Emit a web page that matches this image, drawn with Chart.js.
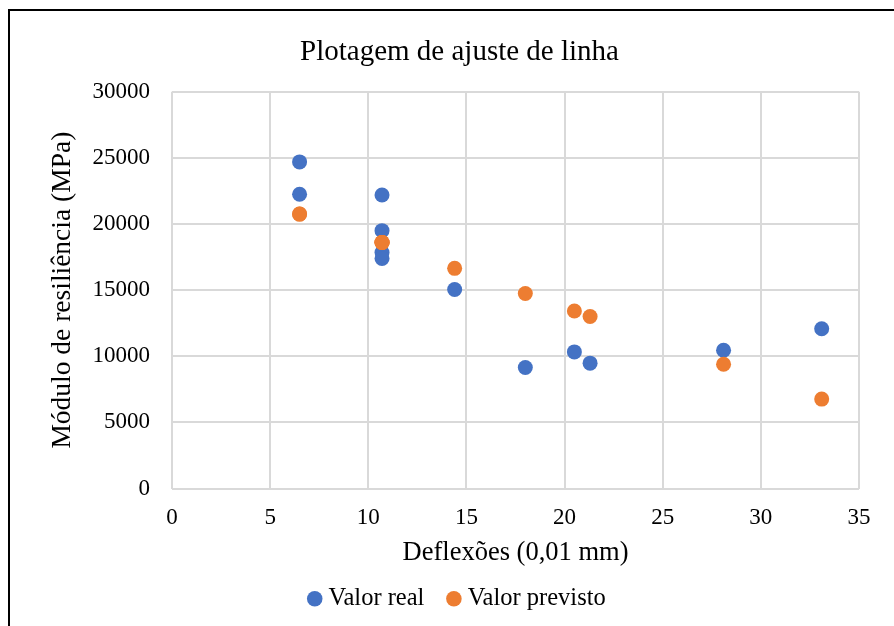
<!DOCTYPE html>
<html>

<head>
    <meta charset="UTF-8">
    <title>Plotagem de ajuste de linha</title>
    <script src="https://cdn.jsdelivr.net/npm/chart.js@4.4.1/dist/chart.umd.min.js"></script>
    <style>
        body { margin: 0; background: #fff; }
        #wrap { position: relative; width: 894px; height: 626px; overflow: hidden; }
        #frame {
            position: absolute; left: 8px; top: 9px; width: 1000px; height: 1000px;
            border: 2px solid #000; box-sizing: border-box;
        }
        canvas { position: absolute; left: 0; top: 0; }
    </style>
</head>

<body>
    <div id="wrap">
        <div id="frame"></div>
        <canvas id="chart" width="894" height="626"></canvas>
    </div>
</body>

<script>
    // deflexões (0,01 mm) e módulo de resiliência (MPa)
    var deflexoes = [6.5, 6.5, 10.7, 10.7, 10.7, 10.7, 14.4, 18.0, 20.5, 21.3, 28.1, 33.1];
    var valorReal = [24700, 22250, 22200, 19500, 17850, 17400, 15050, 9150, 10330, 9480, 10460, 12080];
    var valorPrevisto = [20750, 20750, 18600, 18600, 18600, 18600, 16650, 14750, 13420, 13010, 9400, 6760];

    var xTicks = [0, 5, 10, 15, 20, 25, 30, 35];
    var yTicks = [0, 5000, 10000, 15000, 20000, 25000, 30000];

    function pontos(ys) {
        return deflexoes.map(function (x, i) { return { x: x, y: ys[i] }; });
    }

    var serif = "'Liberation Serif', 'Times New Roman', serif";
    var grade = '#d9d9d9';

    new Chart(document.getElementById('chart'), {
        type: 'scatter',
        data: {
            datasets: [{
                label: 'Valor real',
                data: pontos(valorReal),
                backgroundColor: '#4472c4',
                borderColor: '#4472c4',
                pointRadius: 7.5,
                pointHoverRadius: 7.5,
                borderWidth: 0,
                order: 1
            }, {
                label: 'Valor previsto',
                data: pontos(valorPrevisto),
                backgroundColor: '#ed7d31',
                borderColor: '#ed7d31',
                pointRadius: 7.5,
                pointHoverRadius: 7.5,
                borderWidth: 0,
                order: 0
            }]
        },
        options: {
            responsive: false,
            animation: false,
            devicePixelRatio: 1,
            // a margem esquerda desloca título e legenda para a direita
            layout: { padding: { left: 60, right: 35, top: 10, bottom: 5 } },
            plugins: {
                title: {
                    display: true,
                    text: 'Plotagem de ajuste de linha',
                    color: '#000',
                    font: { family: serif, size: 29, weight: 'normal' },
                    padding: { top: 25, bottom: 22 }
                },
                legend: {
                    position: 'bottom',
                    labels: {
                        color: '#000',
                        font: { family: serif, size: 24.5 },
                        usePointStyle: true,
                        pointStyle: 'circle',
                        boxWidth: 3,
                        boxHeight: 11,
                        padding: 28,
                        sort: function (a, b) { return a.datasetIndex - b.datasetIndex; }
                    }
                },
                tooltip: { enabled: false }
            },
            scales: {
                x: {
                    type: 'linear',
                    min: 0,
                    max: 35,
                    afterFit: function (scale) { scale.height = 70; },
                    afterBuildTicks: function (scale) {
                        scale.ticks = xTicks.map(function (v) { return { value: v }; });
                    },
                    grid: { color: grade, lineWidth: 2, drawTicks: false },
                    border: { display: false },
                    ticks: {
                        color: '#000',
                        font: { family: serif, size: 23 },
                        padding: 16
                    },
                    title: {
                        display: true,
                        text: 'Deflexões (0,01 mm)',
                        color: '#000',
                        font: { family: serif, size: 26.5 },
                        padding: { top: 0, bottom: -10 }
                    }
                },
                y: {
                    type: 'linear',
                    min: 0,
                    max: 30000,
                    afterFit: function (scale) { scale.width = 112; },
                    afterBuildTicks: function (scale) {
                        scale.ticks = yTicks.map(function (v) { return { value: v }; });
                    },
                    grid: { color: grade, lineWidth: 2, drawTicks: false },
                    border: { display: false },
                    ticks: {
                        color: '#000',
                        font: { family: serif, size: 23 },
                        padding: 22,
                        callback: function (v) { return String(v); }
                    },
                    title: {
                        display: true,
                        text: 'Módulo de resiliência (MPa)',
                        color: '#000',
                        font: { family: serif, size: 27.5 },
                        padding: { top: -14, bottom: 0 }
                    }
                }
            }
        }
    });
</script>

</html>
